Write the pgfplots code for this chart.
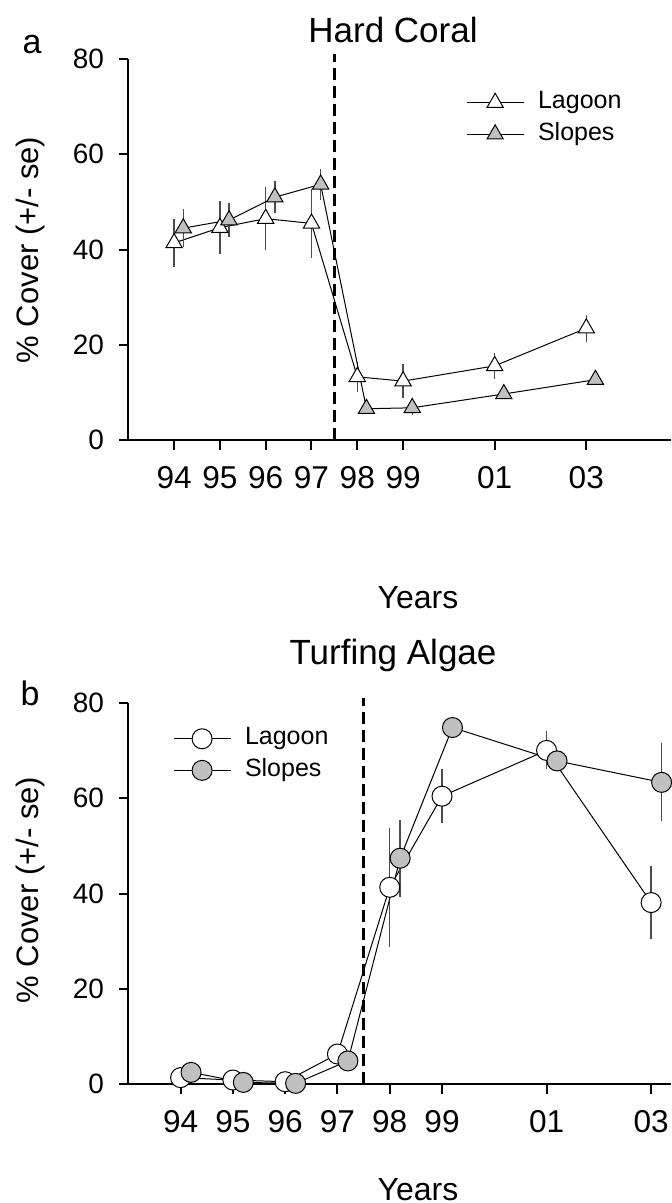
\documentclass[border=0pt]{standalone}
\usepackage{fontspec}
\setmainfont{Liberation Sans}
\usepackage{pgfplots}
\pgfplotsset{compat=1.18}
\definecolor{fillgray}{RGB}{192,192,192}
\pgfplotsset{
 panel/.style={
  scale only axis, width=271.35pt, anchor=south west,
  axis x line=bottom, axis y line=left,
  axis line style={-, line width=1pt},
  every tick/.style={black, line width=1pt},
  tick align=outside, major tick length=4.65pt,
  xmin=93, ymin=0, ymax=80,
  ytick={0,20,40,60,80},
  xtick={94,95,96,97,98,99,101,103},
  xticklabels={94,95,96,97,98,99,01,03},
  xticklabel style={font=\fontsize{15.8}{18}\selectfont, yshift=-5pt},
  yticklabel style={font=\fontsize{14}{16}\selectfont, xshift=-4pt},
  /pgf/number format/assume math mode=true,
  clip=false,
  legend cell align=left,
  legend image code/.code={\draw[mark repeat=2,mark phase=2,##1] plot coordinates {(0pt,0pt) (14.2pt,0pt) (28.4pt,0pt)};},
  legend style={draw=none, fill=none, font=\fontsize{12.5}{15}\selectfont,
    inner sep=0pt, row sep=3.8pt, column sep=7pt,
    nodes={inner sep=0pt, text height=9pt, text depth=3pt, anchor=west}},
 },
 ser/.style={black, line width=0.5pt, mark size=#1, mark options={solid, line width=0.9pt},
   error bars/y dir=both, error bars/y explicit, error bars/error mark=none,
   error bars/error bar style={line width=0.7pt, black!70}},
 dashv/.style={black, line width=1.15pt, dash pattern=on 6pt off 3pt, forget plot},
}
\begin{document}
\begin{tikzpicture}
% ---------- panel a ----------
\begin{axis}[panel, at={(64.15pt,-220.1pt)}, height=190.6pt, xmax=104.85,
  legend style={at={(0.622,0.918)}, anchor=north west}]
\addplot[dashv] coordinates {(97.5,0) (97.5,81)};
\addplot+[ser=4.7pt, mark=triangle*, mark options={fill=white}] table[x=x, y=y, y error=e] {
x y e
94 41.4 5.0
95 44.6 5.6
96 46.5 6.6
97 45.5 7.3
98 13.3 3.2
99 12.4 3.5
101 15.6 2.7
103 23.5 2.8
};
\addlegendentry{Lagoon}
\addplot+[ser=4.7pt, mark=triangle*, mark options={fill=fillgray}] table[x=x, y=y, y error=e] {
x y e
94.2 44.5 4.0
95.2 46.2 3.5
96.2 51.0 3.4
97.2 53.7 3.3
98.2 6.6 1.0
99.2 6.8 1.6
101.2 9.7 1.0
103.2 12.7 1.0
};
\addlegendentry{Slopes}
\end{axis}
% ---------- panel b ----------
\begin{axis}[panel, at={(64.15pt,-542.15pt)}, height=190.8pt, xmax=103.38,
  legend style={at={(0.082,0.938)}, anchor=north west}]
\addplot[dashv] coordinates {(97.5,0) (97.5,81)};
\addplot+[ser=5pt, mark=*, mark options={fill=white}] table[x=x, y=y, y error=e] {
x y e
94 1.4 0.5
95 0.9 0.4
96 0.55 0.3
97 6.35 0.8
98 41.3 12.5
99 60.4 5.7
101 70.0 4.0
103 38.1 7.6
};
\addlegendentry{Lagoon}
\addplot+[ser=5pt, mark=*, mark options={fill=fillgray}] table[x=x, y=y, y error=e] {
x y e
94.2 2.5 0.5
95.2 0.4 0.3
96.2 0.2 0.2
97.2 4.9 0.8
98.2 47.4 8.1
99.2 74.8 1.0
101.2 67.8 1.2
103.2 63.3 8.2
};
\addlegendentry{Slopes}
\end{axis}
% ---------- texts ----------
\node[font=\fontsize{17}{20}\selectfont] at (16pt,-22.5pt) {a};
\node[font=\fontsize{17}{20}\selectfont] at (15pt,-346.5pt) {b};
\node[font=\fontsize{17.5}{20}\selectfont] at (196.5pt,-15pt) {Hard Coral};
\node[font=\fontsize{17.5}{20}\selectfont] at (196.5pt,-327.5pt) {Turfing Algae};
\node[font=\fontsize{16}{19}\selectfont] at (209pt,-299pt) {Years};
\node[font=\fontsize{16}{19}\selectfont] at (209pt,-595pt) {Years};
\node[font=\fontsize{15.5}{18}\selectfont, rotate=90] at (15pt,-125pt) {\% Cover (+/- se)};
\node[font=\fontsize{15.5}{18}\selectfont, rotate=90] at (15pt,-445pt) {\% Cover (+/- se)};
\pgfresetboundingbox
\useasboundingbox (0,0) rectangle (335.5pt,-601.5pt);
\end{tikzpicture}
\end{document}
